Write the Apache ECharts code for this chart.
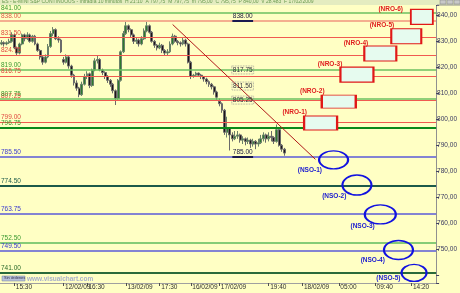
<!DOCTYPE html>
<html><head><meta charset="utf-8">
<script src="https://cdn.jsdelivr.net/npm/echarts@6/dist/echarts.min.js"></script>
<style>html,body{margin:0;padding:0;background:#ffffc4;}#c{width:460px;height:293px;}</style>
</head><body><div id="c"></div>
<script>
// ---- data ----
const slotCount = 168; // 20-minute slots across the chart
const tickIdx = [5, 24, 33, 48, 61, 73, 84, 103, 116, 130, 144, 158];
const tickLabels = ['15:30', '12/02/09', '16:30', '13/02/09', '17:30', '16/02/09', '17/02/09', '19:40', '18/02/09', '05:00', '09:40', '14:20'];

// [open, close, low, high]
const ohlc = [
[829.0,829.5,828.5,830.5],[829.5,829.0,828.0,830.0],[829.0,829.5,828.5,830.0],[829.5,830.0,829.0,831.0],
[830.0,832.5,829.5,833.5],[832.5,827.5,827.0,833.0],[827.5,825.5,824.5,828.0],[825.5,829.0,825.0,829.5],
[829.0,832.5,828.5,833.0],[832.5,831.0,830.0,833.0],[831.0,832.5,830.5,833.5],[832.5,830.0,829.5,833.0],
[830.0,832.0,829.5,832.5],[832.0,829.0,828.5,832.5],[829.0,826.5,826.0,829.5],[826.5,824.0,823.0,827.0],
[824.0,822.0,821.0,824.5],[822.0,824.0,821.5,825.0],[824.0,828.0,823.5,829.0],[828.0,833.0,827.5,834.0],
[833.0,834.5,832.0,835.5],[834.5,831.0,830.5,835.0],[831.0,830.5,829.5,832.0],[830.5,826.0,825.5,831.0],
[823.0,822.0,821.0,824.0],[822.0,824.0,821.5,825.0],[824.0,820.5,819.5,824.5],[820.5,817.0,816.0,821.0],
[817.0,814.0,813.0,817.5],[814.0,812.0,811.0,815.0],[812.0,809.5,808.5,812.5],[809.5,813.5,809.0,814.5],
[813.5,816.5,813.0,817.5],[816.5,817.5,815.5,818.5],[817.5,813.0,812.0,818.0],[813.0,819.0,812.5,819.5],
[819.0,822.5,818.5,823.5],[822.5,823.0,821.5,824.5],[823.0,819.0,818.5,823.5],[819.0,818.0,817.0,819.5],
[818.0,816.5,815.5,818.5],[816.5,815.0,814.0,817.0],[815.0,813.5,812.5,815.5],[813.5,811.0,810.0,814.0],
[811.0,808.0,805.5,811.5],[808.0,815.0,807.5,815.5],[815.0,826.0,814.5,826.5],[826.0,833.0,825.5,834.0],
[833.0,836.0,832.5,837.5],[836.0,834.5,833.5,836.5],[834.5,832.5,831.5,835.0],[832.5,830.0,829.0,833.0],
[830.0,830.5,829.0,831.5],[830.5,829.0,828.0,831.0],[829.0,831.0,828.5,832.0],[831.0,834.0,830.5,835.0],
[834.0,836.0,833.5,837.5],[836.0,833.5,833.0,836.5],[833.5,830.0,829.5,834.0],[830.0,828.5,827.5,830.5],
[828.5,827.5,826.5,829.0],[827.5,828.5,827.0,829.5],[828.5,826.5,825.5,829.0],[826.5,825.5,824.5,827.0],
[825.5,826.0,824.5,827.0],[826.0,829.0,825.5,830.0],[829.0,832.0,828.5,833.0],[832.0,830.0,829.5,832.5],
[830.0,829.5,828.5,830.5],[829.5,829.0,828.0,830.0],[829.0,830.5,828.5,831.5],[830.5,829.0,828.0,831.0],
[829.0,822.0,821.5,829.5],[822.0,816.5,815.5,822.5],[816.5,817.0,816.0,817.5],[817.0,817.8,816.5,818.3],
[817.8,817.0,816.5,818.0],[817.0,816.5,815.5,817.5],[816.5,815.5,814.5,816.5],[815.5,814.5,813.5,816.0],
[814.5,813.5,812.5,815.0],[813.5,812.5,811.5,814.0],[812.5,810.5,809.5,813.0],[810.5,808.5,807.5,811.0],
[807.0,806.0,805.0,808.0],[806.0,803.5,802.5,806.5],[803.5,795.0,794.0,804.0],[795.0,796.5,793.0,801.0],
[796.5,794.0,788.0,797.0],[794.0,792.5,791.5,795.0],[792.5,793.5,792.0,795.5],[793.5,794.0,792.5,795.5],
[794.0,792.0,791.0,794.5],[792.0,792.5,790.5,793.5],[792.5,791.5,790.0,793.0],[791.5,792.0,790.5,793.0],
[792.0,790.5,789.0,792.5],[790.5,791.5,789.5,792.5],[791.5,790.5,788.5,792.0],[790.5,791.0,789.5,792.5],
[791.0,792.5,790.5,794.0],[792.5,794.0,791.5,795.0],[794.0,792.5,791.0,794.5],[792.5,793.5,791.5,795.0],
[793.5,793.0,791.5,795.5],[793.0,791.5,790.5,793.5],[791.5,796.0,791.0,798.0],[796.0,790.0,789.5,796.5],
[790.0,788.5,787.5,790.5],[788.5,787.0,786.0,789.0]
];

const levelValues = [841, 838, 831.5, 824.75, 819, 816.75, 807.25, 807.75, 799, 796.75, 785.5, 774.5, 763.75, 752.5, 749.5, 741];
const levelLabels = ['841.00','838.00','831.50','824.75','819.00','816.75','807.25','807.75','799.00','796.75','785.50','774.50','763.75','752.50','749.50','741.00'];
const levelKinds  = ['g','s','r','r','g','r','r','g','r','dg','b','t','b','lg','b','dg2'];

const nroNames = ['(NRO-1)','(NRO-2)','(NRO-3)','(NRO-4)','(NRO-5)','(NRO-6)'];
const nroAt = [123, 130, 137, 146, 156, 162];
const nroVal = [798.6, 806.8, 817.2, 825.3, 832.0, 839.4];

const nsoNames = ['(NSO-1)','(NSO-2)','(NSO-3)','(NSO-4)','(NSO-5)'];
const nsoAt = [128, 137, 146, 153, 159];
const nsoVal = [784.4, 774.7, 763.4, 749.7, 740.9];

const noteLabels = ['817.75','811.50','805.25'];
const noteAt = [93, 93, 93];
const noteVal = [819.0, 812.8, 807.4];

const markedLabels = ['838.00','785.00'];
const markedVal = [838, 785.5];
const markedFrom = 89, markedTo = 97;

const trendFrom = [66, 836.5], trendTo = [121, 784.6];

// ---- styles ----
const kindStyle = {
  g:  {line:'#6cc060', w:1.5, text:'#3c9a32'},
  s:  {line:'#f0957e', w:1.5, text:'#e05a48'},
  r:  {line:'#f05a50', w:1.2, text:'#e04a40'},
  dg: {line:'#0a8a1a', w:2,   text:'#3c9a32'},
  b:  {line:'#5a5ad8', w:1.6, text:'#3a3ad0'},
  t:  {line:'#1c5a4a', w:2,   text:'#1c5a4a'},
  lg: {line:'#86cc76', w:2,   text:'#3c9a32'},
  dg2:{line:'#2a6a3a', w:2,   text:'#2a6a2a'}
};
const FONT = 'Liberation Sans';
const categories = Array.from({length: slotCount}, (_, i) => 's' + i);
const tickSet = new Set(tickIdx);

const levelLines = levelValues.map((v, i) => {
  const st = kindStyle[levelKinds[i]];
  return {
    yAxis: v,
    lineStyle: {color: st.line, width: st.w, type: 'solid'},
    label: {show: true, position: 'insideStartTop', formatter: levelLabels[i], color: st.text,
      fontSize: 6.5, fontFamily: FONT, distance: [1, 1]}
  };
});

const otherLines = [
  [{coord: trendFrom}, {coord: trendTo, lineStyle: {color: '#b01818', width: 1, type: 'solid'}, label: {show: false}}]
];
markedVal.forEach((v, i) => {
  otherLines.push([
    {coord: [markedFrom, v]},
    {coord: [markedTo, v], lineStyle: {color: '#1a1a50', width: 2, type: 'solid'},
     label: {show: true, position: 'insideMiddleTop', formatter: markedLabels[i], color: '#202040', fontSize: 6.5, fontFamily: FONT, distance: 1}}
  ]);
});

const nroOffsets = [[4,-11],[4,-10.5],[3,-10.5],[5,-10.5],[4,-11],[-7,-8]];
const nroSizes = [[33,14],[34,13],[33,15],[32,15],[30,15],[22,15]];
const nsoOffsets = [[4,10],[5,11.5],[11,12],[2,10],[0,5]];
const nsoSizes = [[29,18],[29,20],[31,19],[29,19],[25,17]];

const boxPoints = nroNames.map((n, i) => ({
  coord: [nroAt[i], nroVal[i]], symbol: 'rect', symbolSize: nroSizes[i],
  itemStyle: {color: '#e6fbef', borderColor: '#e01818', borderWidth: 1.5},
  label: {show: true, position: 'left', distance: 0, offset: nroOffsets[i], formatter: n,
    color: '#e02020', fontWeight: 'bold', fontSize: 6.5, fontFamily: FONT}
}));
const ellPoints = nsoNames.map((n, i) => ({
  coord: [nsoAt[i], nsoVal[i]], symbol: 'circle', symbolSize: nsoSizes[i],
  itemStyle: {color: 'rgba(0,0,0,0)', borderColor: '#1212e0', borderWidth: 1.8},
  label: {show: true, position: 'left', distance: 0, offset: nsoOffsets[i], formatter: n,
    color: '#1a1ad0', fontWeight: 'bold', fontSize: 6.5, fontFamily: FONT}
}));
const notePoints = noteLabels.map((n, i) => ({
  coord: [noteAt[i], noteVal[i]], symbol: 'rect', symbolSize: 0,
  label: {show: true, position: 'inside', formatter: n, color: '#303040', fontSize: 6.5, fontFamily: FONT,
    borderColor: '#909090', borderWidth: 0.8, borderType: 'dotted', padding: [1, 1, 0, 1]}
}));

const chart = echarts.init(document.getElementById('c'), null, {renderer: 'canvas'});
chart.setOption({
  animation: false,
  backgroundColor: '#ffffc4',
  grid: {left: 0, right: 23, top: 5, bottom: 10},
  xAxis: {
    type: 'category', data: categories, boundaryGap: true,
    axisLine: {show: true, lineStyle: {color: '#a0a0a0', width: 1}},
    axisTick: {show: true, alignWithLabel: true, interval: (i) => tickSet.has(i), length: 3, lineStyle: {color: '#505050'}},
    axisLabel: {interval: (i) => tickSet.has(i), formatter: (v, i) => tickLabels[tickIdx.indexOf(i)] || '',
      align: 'left', fontSize: 6.5, fontFamily: FONT, color: '#303030', margin: 1, padding: [0, 0, 0, 1.5]},
    splitLine: {show: false}
  },
  yAxis: {
    type: 'value', position: 'right', min: 737, max: 844, splitNumber: 10,
    splitLine: {show: false},
    axisLine: {show: true, lineStyle: {color: '#909090'}},
    axisTick: {show: true, length: 3, lineStyle: {color: '#404060'}},
    axisLabel: {fontSize: 6.5, fontFamily: FONT, color: '#383860', margin: 1,
      formatter: (v) => (v >= 750 && v <= 840 && v % 10 === 0) ? v.toFixed(2).replace('.', ',') : ''}
  },
  series: [
    {
      type: 'line', data: [], silent: true, z: 1,
      markLine: {silent: true, symbol: ['none', 'none'], animation: false, data: levelLines}
    },
    {
      type: 'candlestick', data: ohlc, barWidth: 2.4, z: 3,
      itemStyle: {color: '#2c7a2c', color0: '#1e1414', borderColor: '#6a806a', borderColor0: '#6a6a6a', borderWidth: 1},
      markLine: {silent: true, symbol: ['none', 'none'], animation: false, data: otherLines},
      markPoint: {silent: true, animation: false, data: boxPoints.concat(ellPoints).concat(notePoints)}
    }
  ],
  graphic: [
    {type: 'rect', shape: {x: 0, y: 0, width: 460, height: 5}, style: {fill: '#e4ecc0'}, z: 10},
    {type: 'text', x: 2, y: -1, style: {text: 'ES - E-MINI S&P CONTINUOUS - Intradía 10 minutos  H 21:10  A 797,75  M 797,75  m 795,00  C 795,75  P 840,00  V 28.483  F 17/02/2009',
      fill: '#6a9a50', fontSize: 5, fontFamily: FONT}, z: 11},
    {type: 'rect', shape: {x: 440, y: 0, width: 6, height: 4}, style: {fill: '#c8c8c8', stroke: '#808080', lineWidth: 0.5}, z: 11},
    {type: 'rect', shape: {x: 447, y: 0, width: 6, height: 4}, style: {fill: '#c8c8c8', stroke: '#808080', lineWidth: 0.5}, z: 11},
    {type: 'rect', shape: {x: 454, y: 0, width: 6, height: 4}, style: {fill: '#c8c8c8', stroke: '#808080', lineWidth: 0.5}, z: 11},
    {type: 'line', shape: {x1: 437, y1: 5, x2: 460, y2: 5}, style: {stroke: '#909090', lineWidth: 1}, z: 11},
    {type: 'rect', shape: {x: 2, y: 276, width: 23, height: 5}, style: {fill: '#b8c0d8', stroke: '#7080a0', lineWidth: 0.5}, z: 11},
    {type: 'text', x: 4, y: 276.3, style: {text: 'Sin órdenes', fill: '#303050', fontSize: 4, fontFamily: FONT}, z: 12},
    {type: 'text', x: 27, y: 275.5, style: {text: 'www.visualchart.com', fill: '#a8b0cc', fontSize: 6.5, fontFamily: FONT, fontWeight: 'bold'}, z: 11}
  ]
});
</script></body></html>
